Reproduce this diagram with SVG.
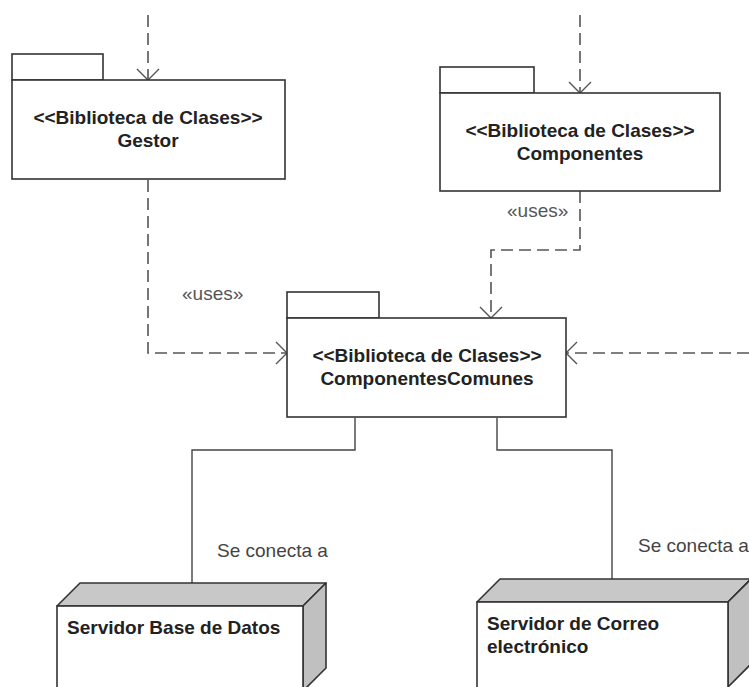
<svg xmlns="http://www.w3.org/2000/svg" width="749" height="687" viewBox="0 0 749 687">
  <style>
    .pkg { fill: #ffffff; stroke: #333333; stroke-width: 1.6; }
    .title { font-family: "Liberation Sans", Arial, sans-serif; font-size: 19px; font-weight: bold; fill: #222222; text-anchor: middle; }
    .node-title { font-family: "Liberation Sans", Arial, sans-serif; font-size: 19px; font-weight: bold; fill: #222222; }
    .dep { fill: none; stroke: #555555; stroke-width: 1.6; stroke-dasharray: 12 6; }
    .link { fill: none; stroke: #444444; stroke-width: 1.4; }
    .head { fill: none; stroke: #555555; stroke-width: 1.4; }
    .lbl { font-family: "Liberation Sans", Arial, sans-serif; font-size: 19px; fill: #555555; }
    .conn-lbl { font-family: "Liberation Sans", Arial, sans-serif; font-size: 19px; fill: #444444; }
    .face-top { fill: #c8c8c8; stroke: #333333; stroke-width: 1.6; stroke-linejoin: round; }
    .face-side { fill: #c0c0c0; stroke: #333333; stroke-width: 1.6; stroke-linejoin: round; }
    .face-front { fill: #ffffff; stroke: #333333; stroke-width: 1.6; }
  </style>

  <rect width="749" height="687" fill="#ffffff"/>

  <!-- connectors -->
  <g id="connectors">
    <!-- incoming from above -->
    <path class="dep" d="M148,15 V79"/>
    <path class="head" d="M137,69 L148,80 L159,69"/>
    <path class="dep" d="M580,15 V92"/>
    <path class="head" d="M569,82 L580,93 L591,82"/>

    <!-- Gestor uses ComponentesComunes -->
    <path class="dep" d="M148,180 V353 H286"/>
    <path class="head" d="M276,342 L287,353 L276,364"/>
    <text class="lbl" x="182" y="300">«uses»</text>

    <!-- Componentes uses ComponentesComunes -->
    <path class="dep" d="M580,191 V250 H491 V317"/>
    <path class="head" d="M480,307 L491,318 L502,307"/>
    <text class="lbl" x="507" y="217">«uses»</text>

    <!-- incoming from the right -->
    <path class="dep" d="M749,353 H567"/>
    <path class="head" d="M577,342 L566,353 L577,364"/>

    <!-- ComponentesComunes connects to servers -->
    <path class="link" d="M355,418 V450 H192 V593"/>
    <text class="conn-lbl" x="217" y="557">Se conecta a</text>
    <path class="link" d="M497,418 V450 H612 V591"/>
    <text class="conn-lbl" x="638" y="552">Se conecta a</text>
  </g>

  <!-- package: Gestor -->
  <g id="pkg-gestor">
    <rect class="pkg" x="12" y="54" width="91" height="26"/>
    <rect class="pkg" x="12" y="80" width="273" height="99"/>
    <text class="title" x="148" y="124">&lt;&lt;Biblioteca de Clases&gt;&gt;</text>
    <text class="title" x="148" y="147">Gestor</text>
  </g>

  <!-- package: Componentes -->
  <g id="pkg-componentes">
    <rect class="pkg" x="440" y="67" width="94" height="26"/>
    <rect class="pkg" x="440" y="93" width="280" height="98"/>
    <text class="title" x="580" y="137">&lt;&lt;Biblioteca de Clases&gt;&gt;</text>
    <text class="title" x="580" y="160">Componentes</text>
  </g>

  <!-- package: ComponentesComunes -->
  <g id="pkg-componentes-comunes">
    <rect class="pkg" x="287" y="292" width="92" height="26"/>
    <rect class="pkg" x="287" y="318" width="279" height="99"/>
    <text class="title" x="427" y="362">&lt;&lt;Biblioteca de Clases&gt;&gt;</text>
    <text class="title" x="427" y="385">ComponentesComunes</text>
  </g>

  <!-- node: Servidor Base de Datos -->
  <g id="node-db">
    <path class="face-top" d="M57,606 L80,583 H326 L303,606 Z"/>
    <path class="face-side" d="M303,606 L326,583 V668 L303,691 Z"/>
    <rect class="face-front" x="57" y="606" width="246" height="90"/>
    <text class="node-title" x="67" y="634">Servidor Base de Datos</text>
  </g>

  <!-- node: Servidor de Correo electrónico -->
  <g id="node-mail">
    <path class="face-top" d="M477,602 L500,579 H751 L728,602 Z"/>
    <path class="face-side" d="M728,602 L751,579 V664 L728,687 Z"/>
    <rect class="face-front" x="477" y="602" width="251" height="94"/>
    <text class="node-title" x="487" y="630">Servidor de Correo</text>
    <text class="node-title" x="487" y="653">electrónico</text>
  </g>
</svg>
